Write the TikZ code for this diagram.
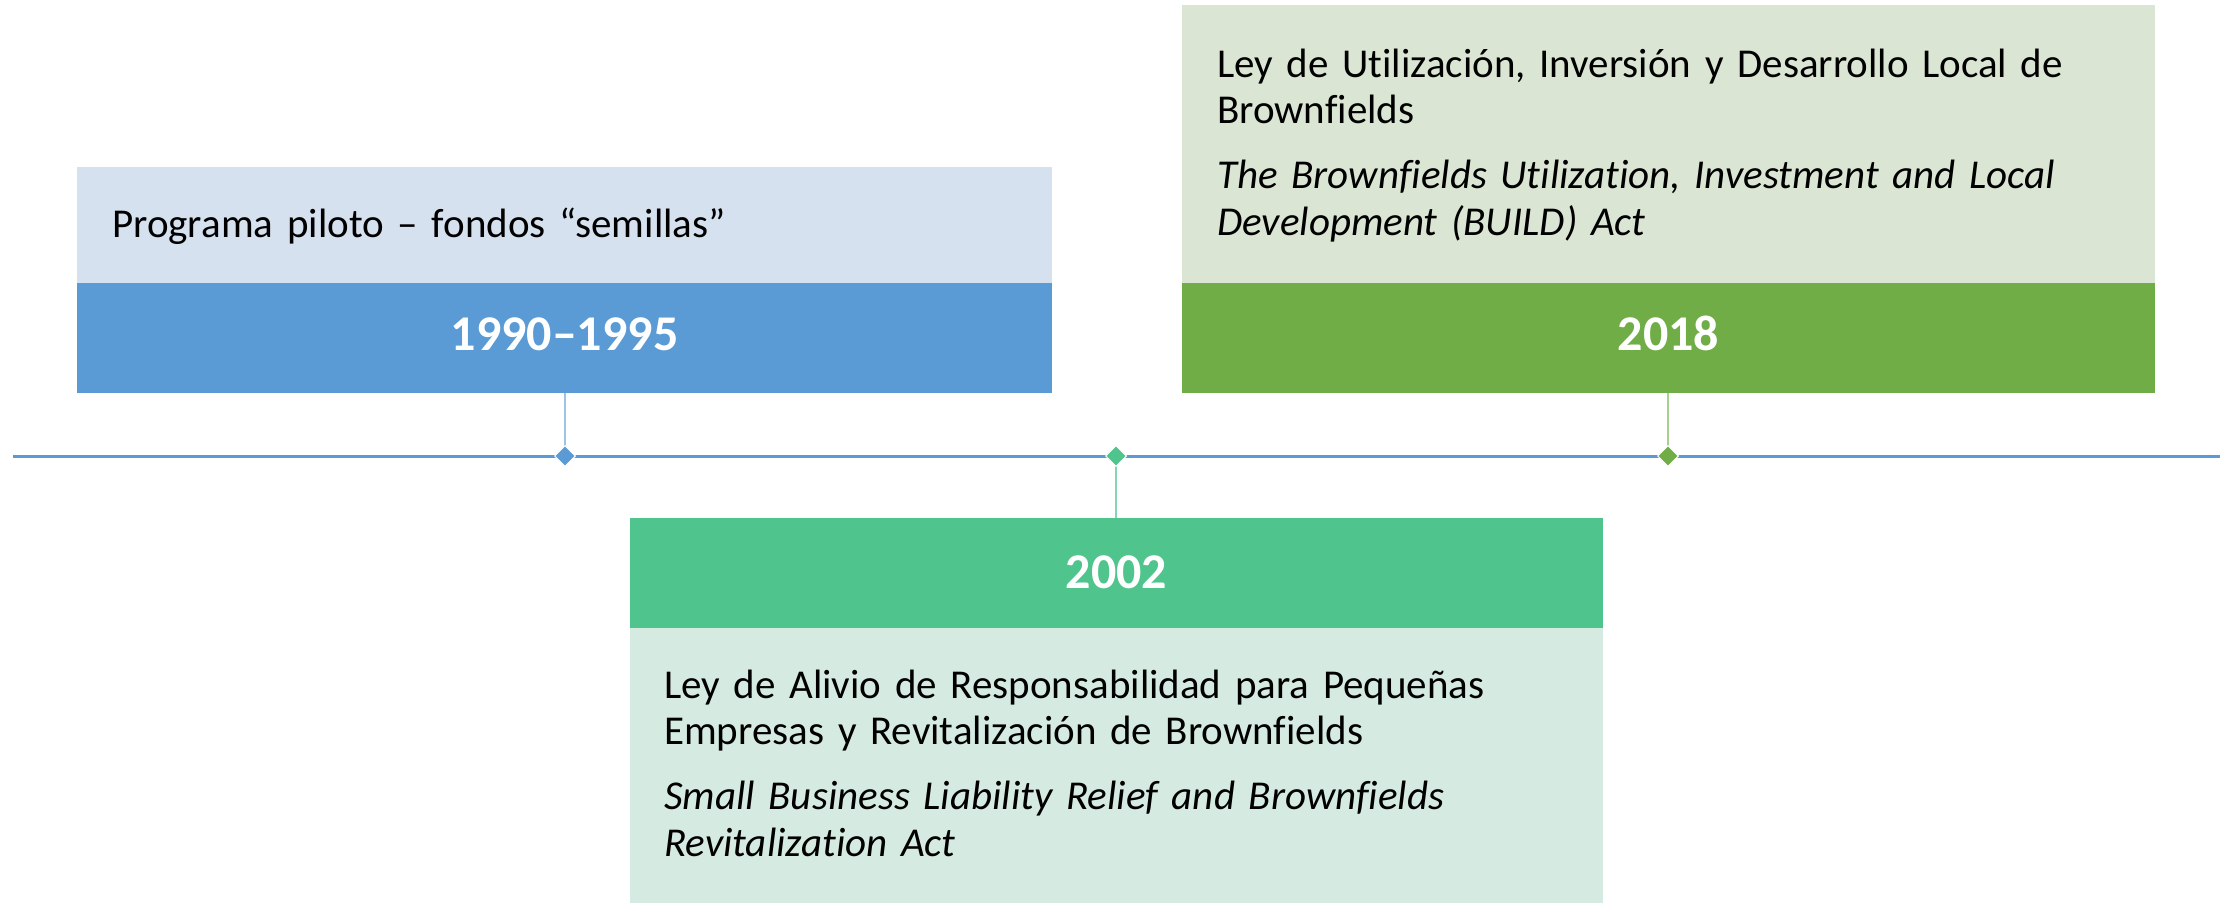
\documentclass[tikz,border=0pt]{standalone}
\usepackage{fontspec}
\setmainfont{Carlito}[Ligatures={NoCommon}]
\usetikzlibrary{shapes.geometric}
\definecolor{blueD}{HTML}{5B9BD5}
\definecolor{blueL}{HTML}{D6E1EF}
\definecolor{blueC}{HTML}{9DC3E6}
\definecolor{tealD}{HTML}{50C48D}
\definecolor{tealL}{HTML}{D5EBE2}
\definecolor{tealC}{HTML}{84D6B0}
\definecolor{greenD}{HTML}{70AD47}
\definecolor{greenL}{HTML}{DAE5D3}
\definecolor{greenC}{HTML}{A9D18E}
\begin{document}
\begin{tikzpicture}[x=1bp,y=1bp,
  box/.style={rectangle, inner sep=0, outer sep=0, anchor=north west},
  yearlabel/.style={anchor=base, text=white, font=\fontsize{50bp}{60bp}\selectfont\bfseries, inner sep=0},
  bodytext/.style={anchor=base west, inner sep=0, text width=920bp, align=left, font=\fontsize{41bp}{46.5bp}\selectfont},
  marker/.style={diamond, inner sep=0, minimum width=21bp, minimum height=21bp, draw=white, line width=1bp, fill=#1},
  conn/.style={draw=#1, line width=1.5bp}]
\useasboundingbox (0,0) rectangle (2233,-903);
% box 1990-1995
\node[box, fill=blueL, minimum width=975bp, minimum height=116bp] (b1body) at (77,-167) {};
\node[box, fill=blueD, minimum width=975bp, minimum height=110bp] (b1head) at (77,-283) {};
\node[yearlabel] (y1) at (564.5,-350) {1990–1995};
\node[bodytext] (t1) at (112,-237) {Programa piloto – fondos “semillas”};
% box 2018
\node[box, fill=greenL, minimum width=973bp, minimum height=278bp] (b3body) at (1182,-5) {};
\node[box, fill=greenD, minimum width=973bp, minimum height=110bp] (b3head) at (1182,-283) {};
\node[yearlabel] (y3) at (1668.5,-350) {2018};
\node[bodytext] (t3) at (1217,-77) {Ley de Utilización, Inversión y Desarrollo Local de\\ Brownfields\\[18.5bp]
  \itshape The Brownfields Utilization, Investment and Local\\ \itshape Development (BUILD) Act};
% box 2002
\node[box, fill=tealD, minimum width=973bp, minimum height=110bp] (b2head) at (630,-518) {};
\node[box, fill=tealL, minimum width=973bp, minimum height=275bp] (b2body) at (630,-628) {};
\node[yearlabel] (y2) at (1116.5,-588) {2002};
\node[bodytext] (t2) at (664,-698) {Ley de Alivio de Responsabilidad para Pequeñas\\ Empresas y Revitalización de Brownfields\\[18.5bp]
  \itshape Small Business Liability Relief and Brownfields\\ \itshape Revitalization Act};
% timeline
\coordinate (tl) at (13,-456);
\coordinate (tr) at (2220,-456);
\draw[blueD, line width=3bp] (tl) -- (tr);
\coordinate (d1c) at (565,-456);
\coordinate (d2c) at (1116,-456);
\coordinate (d3c) at (1668,-456);
\draw[conn=blueC] (d1c |- b1head.south) -- (d1c);
\draw[conn=greenC] (d3c |- b3head.south) -- (d3c);
\draw[conn=tealC] (d2c) -- (d2c |- b2head.north);
\node[marker=blueD] (d1) at (d1c) {};
\node[marker=tealD] (d2) at (d2c) {};
\node[marker=greenD] (d3) at (d3c) {};
\end{tikzpicture}
\end{document}
